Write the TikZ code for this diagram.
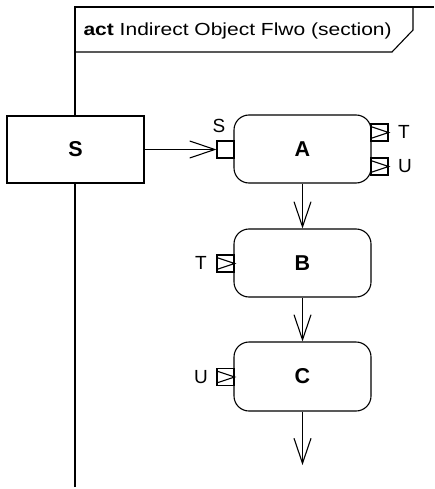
\documentclass[tikz,border=0pt]{standalone}
\usepackage{fontspec}
\usepackage{graphicx}
\setmainfont{Liberation Sans}
\usetikzlibrary{arrows.meta}
\begin{document}
\begin{tikzpicture}[x=1pt,y=-1pt,
  line width=1.1pt,
  lbl/.style={font=\fontsize{19}{22}\selectfont},
  blbl/.style={font=\bfseries\fontsize{21.5}{24}\selectfont},
  action/.style={draw, rounded corners=15pt, minimum width=137pt, minimum height=68pt, inner sep=0pt, blbl},
  objbox/.style={draw, line width=2pt, fill=white, minimum width=137pt, minimum height=67pt, inner sep=0pt, blbl},
  pinbox/.style={draw, fill=white, minimum width=17pt, minimum height=17pt, inner sep=0pt},
  flow/.style={-{Straight Barb[length=25pt,width=17pt,line width=1.1pt]}}
]
\useasboundingbox (0,0) rectangle (434,489);
% frame
\coordinate (fbl) at (75,487);
\coordinate (ftl) at (75,7);
\coordinate (ftr) at (434,7);
\draw (fbl) -- (ftl) -- (ftr);
\draw (75,52) -- (392,52) -- (413,30) -- (413,7);
\node[anchor=base west, inner sep=0pt, font=\fontsize{17.5}{20}\selectfont] (title) at (83,36) {\scalebox{1.2}[1]{\textbf{act} Indirect Object Flwo (section)}};
% object node S
\node[objbox] (S) at (75.5,149.5) {S};
% actions
\node[action] (A) at (302.5,149) {A};
\node[action] (B) at (302.5,263) {B};
\node[action, minimum height=69pt] (C) at (302.5,376.5) {C};
% pins
\node[pinbox] (pS) at (225.5,149.5) {};
\node[pinbox] (pT) at (379.5,132.5) {};
\node[pinbox] (pU) at (379.5,166.5) {};
\node[pinbox] (pBT) at (225.5,263.5) {};
\node[pinbox] (pCU) at (225.5,377) {};
\foreach \p in {pT,pU,pBT,pCU}{
  \draw ([yshift=-3pt]\p.north west) -- (\p.east) -- ([yshift=3pt]\p.south west);
}
% pin labels
\node[lbl] (lS) at (219,126) {S};
\node[lbl] (lT) at (404,132) {T};
\node[lbl] (lU) at (405,166) {U};
\node[lbl] (lBT) at (201,263) {T};
\node[lbl] (lCU) at (201,377) {U};
% flows
\coordinate (end) at (302.5,465);
\draw[flow] (S.east) -- (pS.west);
\draw[flow] (A.south) -- (B.north);
\draw[flow] (B.south) -- (C.north);
\draw[flow] (C.south) -- (end);
\end{tikzpicture}
\end{document}
